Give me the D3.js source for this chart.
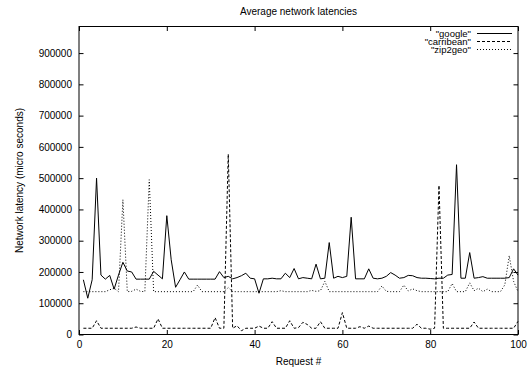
<!DOCTYPE html>
<html><head><meta charset="utf-8">
<script src="https://cdn.jsdelivr.net/npm/d3@7"></script>
<style>
html,body{margin:0;padding:0;background:#fff;}
text{font-family:"Liberation Sans",Arial,Helvetica,sans-serif;font-size:10px;fill:#000;}
</style></head>
<body>
<svg id="chart" width="532" height="371"></svg>
<script>
const title = "Average network latencies";
const xLabel = "Request #";
const yLabel = "Network latency (micro seconds)";
const seriesNames = ["\"google\"", "\"carribean\"", "\"zip2geo\""];
const xTicks = [0, 20, 40, 60, 80, 100];
const yTicks = [0, 100000, 200000, 300000, 400000, 500000, 600000, 700000, 800000, 900000];
const requests = d3.range(1, 101);
const google = [
 175000,116000,175000,500000,190000,177000,189000,145000,190000,231000,
 203000,200000,177000,177000,177000,177000,202000,190000,178000,380000,
 239000,151000,175000,200000,177000,177000,177000,177000,177000,177000,
 177000,201000,182000,186000,178000,182000,188000,196000,180000,178000,
 132000,178000,178000,180000,178000,178000,196000,182000,211000,178000,
 182000,180000,178000,225000,178000,180000,294000,180000,186000,182000,
 186000,375000,178000,178000,178000,210000,180000,178000,180000,186000,
 198000,190000,180000,182000,189000,188000,182000,180000,180000,179000,
 178000,180000,180000,190000,192000,543000,180000,180000,262000,180000,
 182000,185000,180000,180000,180000,180000,180000,182000,210000,190000];
const carribean = [
 20000,20000,20000,44000,20000,20000,20000,20000,20000,20000,
 20000,20000,24000,20000,20000,20000,20000,50000,20000,20000,
 20000,20000,20000,20000,20000,20000,20000,20000,20000,20000,
 54000,20000,20000,577000,20000,28000,12000,20000,20000,20000,
 27000,20000,20000,41000,20000,20000,20000,44000,20000,22000,
 39000,32000,20000,20000,41000,20000,20000,20000,20000,70000,
 20000,20000,20000,25000,20000,27000,20000,20000,20000,20000,
 20000,20000,20000,20000,20000,20000,33000,20000,20000,17000,
 20000,477000,20000,20000,20000,20000,20000,20000,20000,40000,
 20000,20000,20000,20000,20000,20000,20000,20000,20000,42000];
const zip2geo = [
 137000,137000,137000,137000,137000,137000,143000,148000,137000,431000,
 137000,138000,145000,138000,137000,495000,137000,137000,137000,137000,
 137000,137000,137000,137000,137000,137000,158000,137000,137000,137000,
 137000,137000,137000,150000,137000,137000,137000,137000,137000,137000,
 137000,137000,137000,137000,137000,140000,137000,137000,137000,137000,
 137000,137000,141000,138000,140000,170000,137000,137000,137000,137000,
 137000,137000,137000,137000,137000,137000,137000,137000,155000,138000,
 137000,137000,137000,158000,139000,146000,140000,137000,137000,137000,
 137000,137000,137000,137000,163000,137000,137000,137000,165000,140000,
 148000,137000,145000,137000,137000,137000,159000,252000,170000,137000];

const series = [
  {name: seriesNames[0], values: google, dash: null},
  {name: seriesNames[1], values: carribean, dash: "3,2"},
  {name: seriesNames[2], values: zip2geo, dash: "1,2"}
];

const svg = d3.select("#chart");
const L = 79, R = 518, T = 26.5, B = 334.5;
const yMax = 985000;
const x = d3.scaleLinear().domain([0, 100]).range([L, R]);
const y = d3.scaleLinear().domain([0, yMax]).range([B, T]);

// axes (gnuplot-style inward ticks on all four sides)
const tick = 4.5;
svg.append("g").attr("transform", `translate(0,${B})`)
  .call(d3.axisBottom(x).tickValues(xTicks).tickFormat(d3.format("d")).tickSize(-tick).tickPadding(6))
  .call(g => g.select(".domain").remove());
svg.append("g").attr("transform", `translate(0,${T})`)
  .call(d3.axisTop(x).tickValues(xTicks).tickFormat("").tickSize(-tick))
  .call(g => g.select(".domain").remove());
svg.append("g").attr("transform", `translate(${L},0)`)
  .call(d3.axisLeft(y).tickValues(yTicks).tickFormat(d3.format("d")).tickSize(-tick).tickPadding(7))
  .call(g => g.select(".domain").remove());
svg.append("g").attr("transform", `translate(${R},0)`)
  .call(d3.axisRight(y).tickValues(yTicks).tickFormat("").tickSize(-tick))
  .call(g => g.select(".domain").remove());
svg.selectAll(".tick line").attr("stroke", "#000");
svg.selectAll(".tick text").style("font-family", "Liberation Sans, Arial, sans-serif").style("font-size", "10px").attr("fill", "#000");

// lines
const line = d3.line().x((d, i) => x(requests[i])).y(d => y(d));
series.forEach(s => {
  svg.append("path").datum(s.values)
    .attr("d", line).attr("fill", "none").attr("stroke", "#000")
    .attr("stroke-width", 1)
    .attr("stroke-dasharray", s.dash);
});

// frame
svg.append("rect").attr("x", L).attr("y", T).attr("width", R - L).attr("height", B - T)
  .attr("fill", "none").attr("stroke", "#000").attr("stroke-width", 1);

// legend
const legX = 471, legY0 = 33.5, legDY = 8;
series.forEach((s, i) => {
  const yy = legY0 + i * legDY;
  svg.append("text").attr("x", legX).attr("y", yy).attr("dy", "0.35em")
    .attr("text-anchor", "end").style("font-size", "9.5px").text(s.name);
  svg.append("line").attr("x1", 477).attr("x2", 512).attr("y1", yy).attr("y2", yy)
    .attr("stroke", "#000").attr("stroke-width", 1).attr("stroke-dasharray", s.dash);
});

// titles
svg.append("text").attr("x", (L + R) / 2).attr("y", 15).attr("text-anchor", "middle").text(title);
svg.append("text").attr("x", (L + R) / 2).attr("y", 365).attr("text-anchor", "middle").text(xLabel);
svg.append("text").attr("transform", `translate(19,${(T + B) / 2}) rotate(-90)`)
  .attr("text-anchor", "middle").attr("dy", "0.35em").text(yLabel);
</script>
</body></html>
